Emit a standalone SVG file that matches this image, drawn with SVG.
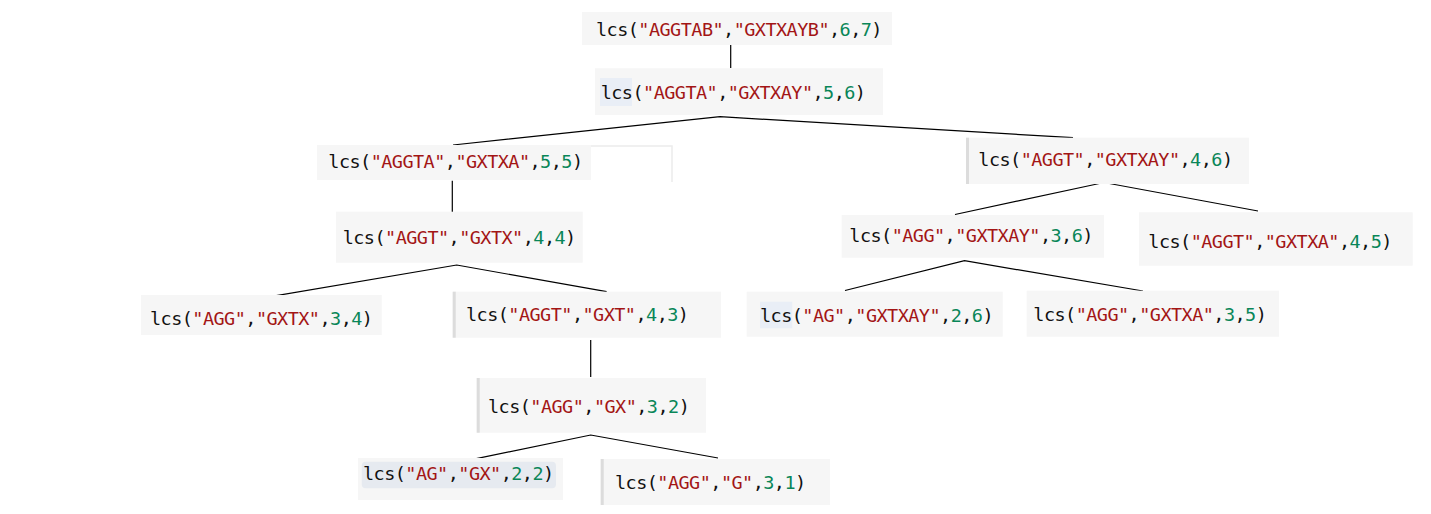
<svg xmlns="http://www.w3.org/2000/svg" width="1431" height="514" viewBox="0 0 1431 514">
<style>
.bg{fill:#f6f6f6}
.st{fill:#dcdcdc}
.hl{fill:#e9eef6}
.t{font-family:"DejaVu Sans Mono","Liberation Mono",monospace;font-size:18.5px;letter-spacing:-0.55px;fill:#111}
.s{fill:#a31515}
.n{fill:#098658}
.ln{stroke:#000;stroke-width:1.2;fill:none}
</style>
<rect width="1431" height="514" fill="#fff"/>
<g id="connectors">
<line class="ln" x1="730.7" y1="45" x2="730.7" y2="68"/>
<polyline class="ln" points="453,145 720,116.7 1073,137.7"/>
<line class="ln" x1="452.3" y1="180.7" x2="452.3" y2="216.7"/>
<polyline class="ln" points="266,297.3 456.7,265 606.7,291.7"/>
<line class="ln" x1="590.7" y1="340" x2="590.7" y2="377"/>
<polyline class="ln" points="472.7,459.3 590.7,435 718,458"/>
<polyline class="ln" points="955,214.5 1104,182.5 1258,211"/>
<polyline class="ln" points="845,290.5 964.5,260.7 1143,291"/>
</g>
<g id="n1">
<rect class="bg" x="582" y="12" width="310" height="33"/>
<text class="t" x="596" y="36">lcs(<tspan class="s">"AGGTAB"</tspan>,<tspan class="s">"GXTXAYB"</tspan>,<tspan class="n">6</tspan>,<tspan class="n">7</tspan>)</text>
</g>
<g id="n2">
<rect class="bg" x="595" y="68.3" width="288" height="46.7"/>
<rect class="hl" x="600" y="78" width="32" height="28"/>
<text class="t" x="600.7" y="98.5">lcs(<tspan class="s">"AGGTA"</tspan>,<tspan class="s">"GXTXAY"</tspan>,<tspan class="n">5</tspan>,<tspan class="n">6</tspan>)</text>
</g>
<g id="n3">
<polyline points="591,146 672,146 672,182" fill="none" stroke="#ececec" stroke-width="1.5"/>
<rect class="bg" x="317" y="145" width="274" height="35"/>
<text class="t" x="328.3" y="168">lcs(<tspan class="s">"AGGTA"</tspan>,<tspan class="s">"GXTXA"</tspan>,<tspan class="n">5</tspan>,<tspan class="n">5</tspan>)</text>
</g>
<g id="n4">
<rect class="bg" x="336" y="211.7" width="246.7" height="51"/>
<text class="t" x="342.7" y="244">lcs(<tspan class="s">"AGGT"</tspan>,<tspan class="s">"GXTX"</tspan>,<tspan class="n">4</tspan>,<tspan class="n">4</tspan>)</text>
</g>
<g id="n5">
<rect class="bg" x="141" y="295" width="240.7" height="40"/>
<text class="t" x="150" y="325">lcs(<tspan class="s">"AGG"</tspan>,<tspan class="s">"GXTX"</tspan>,<tspan class="n">3</tspan>,<tspan class="n">4</tspan>)</text>
</g>
<g id="n6">
<rect class="bg" x="452.7" y="291.7" width="268.3" height="46"/>
<rect class="st" x="452.7" y="291.7" width="3" height="46"/>
<text class="t" x="466" y="321">lcs(<tspan class="s">"AGGT"</tspan>,<tspan class="s">"GXT"</tspan>,<tspan class="n">4</tspan>,<tspan class="n">3</tspan>)</text>
</g>
<g id="n7">
<rect class="bg" x="476.7" y="378" width="229.3" height="54.7"/>
<rect class="st" x="476.7" y="378" width="3" height="54.7"/>
<text class="t" x="488" y="413">lcs(<tspan class="s">"AGG"</tspan>,<tspan class="s">"GX"</tspan>,<tspan class="n">3</tspan>,<tspan class="n">2</tspan>)</text>
</g>
<g id="n8">
<rect class="bg" x="358" y="458" width="205" height="42"/>
<rect x="361.7" y="461.7" width="194.3" height="26.6" rx="4" fill="#e6eaf0"/>
<text class="t" x="363" y="480">lcs(<tspan class="s">"AG"</tspan>,<tspan class="s">"GX"</tspan>,<tspan class="n">2</tspan>,<tspan class="n">2</tspan>)</text>
</g>
<g id="n9">
<rect class="bg" x="600.7" y="459" width="229.3" height="46"/>
<rect class="st" x="600.7" y="459" width="3" height="46"/>
<text class="t" x="615" y="489">lcs(<tspan class="s">"AGG"</tspan>,<tspan class="s">"G"</tspan>,<tspan class="n">3</tspan>,<tspan class="n">1</tspan>)</text>
</g>
<g id="n10">
<rect class="bg" x="966" y="137.7" width="283" height="46.3"/>
<rect class="st" x="966" y="137.7" width="3" height="46.3"/>
<text class="t" x="978.3" y="166">lcs(<tspan class="s">"AGGT"</tspan>,<tspan class="s">"GXTXAY"</tspan>,<tspan class="n">4</tspan>,<tspan class="n">6</tspan>)</text>
</g>
<g id="n11">
<rect class="bg" x="841.7" y="215" width="262.3" height="42.7"/>
<text class="t" x="849.3" y="241.7">lcs(<tspan class="s">"AGG"</tspan>,<tspan class="s">"GXTXAY"</tspan>,<tspan class="n">3</tspan>,<tspan class="n">6</tspan>)</text>
</g>
<g id="n12">
<rect class="bg" x="1139" y="212.3" width="273.7" height="53.4"/>
<text class="t" x="1148.3" y="248">lcs(<tspan class="s">"AGGT"</tspan>,<tspan class="s">"GXTXA"</tspan>,<tspan class="n">4</tspan>,<tspan class="n">5</tspan>)</text>
</g>
<g id="n13">
<rect class="bg" x="746.7" y="291.7" width="256" height="45"/>
<rect class="hl" x="760" y="301.7" width="32.3" height="26.6"/>
<text class="t" x="760" y="321.7">lcs(<tspan class="s">"AG"</tspan>,<tspan class="s">"GXTXAY"</tspan>,<tspan class="n">2</tspan>,<tspan class="n">6</tspan>)</text>
</g>
<g id="n14">
<rect class="bg" x="1026.7" y="290.7" width="252.3" height="46"/>
<text class="t" x="1033.3" y="321">lcs(<tspan class="s">"AGG"</tspan>,<tspan class="s">"GXTXA"</tspan>,<tspan class="n">3</tspan>,<tspan class="n">5</tspan>)</text>
</g>
</svg>
